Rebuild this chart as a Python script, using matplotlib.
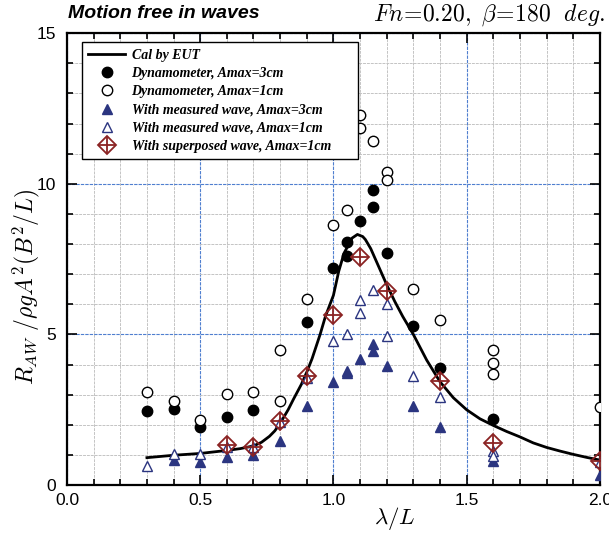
import matplotlib
matplotlib.use("Agg")
import matplotlib.pyplot as plt
from matplotlib.lines import Line2D
from matplotlib.legend_handler import HandlerTuple
from matplotlib.ticker import MultipleLocator

plt.rcParams["mathtext.fontset"] = "cm"
plt.rcParams["font.family"] = ["Liberation Sans", "DejaVu Sans"]

# Calculation (EUT)
cal_x = [0.30, 0.40, 0.50, 0.60, 0.65, 0.70, 0.73, 0.76, 0.78, 0.80, 0.83, 0.85, 0.88,
         0.90, 0.92, 0.95, 0.97, 1.00, 1.02, 1.04, 1.07, 1.09, 1.11, 1.12, 1.14,
         1.16, 1.18, 1.20, 1.23, 1.26, 1.30, 1.35, 1.40, 1.45, 1.50, 1.55, 1.60,
         1.65, 1.70, 1.75, 1.80, 1.85, 1.90, 1.95, 2.00]
cal_y = [0.91, 0.99, 1.05, 1.15, 1.21, 1.30, 1.42, 1.62, 1.80, 2.05, 2.50, 2.85, 3.35,
         3.75, 4.20, 5.00, 5.60, 6.30, 7.10, 7.70, 8.20, 8.32, 8.25, 8.15, 7.85,
         7.45, 7.05, 6.65, 6.10, 5.60, 5.00, 4.15, 3.43, 2.90, 2.50, 2.20, 1.98,
         1.78, 1.60, 1.40, 1.25, 1.13, 1.02, 0.92, 0.83]

# Dynamometer, Amax=3cm
dyn3_x = [0.3, 0.4, 0.5, 0.6, 0.7, 0.9, 1.0, 1.05, 1.05, 1.1, 1.15, 1.15, 1.2, 1.3, 1.4, 1.6]
dyn3_y = [2.47, 2.51, 1.94, 2.25, 2.48, 5.40, 7.20, 8.07, 7.60, 8.78, 9.78, 9.22, 7.70, 5.28, 3.90, 2.18]

# Dynamometer, Amax=1cm
dyn1_x = [0.3, 0.4, 0.5, 0.6, 0.7, 0.8, 0.8, 0.9, 1.0, 1.05, 1.1, 1.1, 1.15, 1.2, 1.2,
          1.3, 1.4, 1.6, 1.6, 1.6, 2.0]
dyn1_y = [3.10, 2.79, 2.16, 3.01, 3.08, 2.80, 4.48, 6.17, 8.62, 9.13, 12.27, 11.85, 11.42,
          10.39, 10.13, 6.50, 5.48, 4.48, 4.04, 3.68, 2.58]

# With measured wave, Amax=3cm
mw3_x = [0.4, 0.5, 0.6, 0.7, 0.8, 0.9, 1.0, 1.05, 1.05, 1.1, 1.15, 1.15, 1.2, 1.3, 1.4, 1.6, 2.0]
mw3_y = [0.82, 0.77, 0.94, 1.00, 1.46, 2.63, 3.41, 3.80, 3.71, 4.17, 4.68, 4.46, 3.95, 2.62,
         1.92, 0.80, 0.33]

# With measured wave, Amax=1cm
mw1_x = [0.3, 0.4, 0.5, 0.6, 0.7, 0.8, 0.9, 1.0, 1.05, 1.1, 1.1, 1.15, 1.2, 1.2, 1.3, 1.4,
         1.6, 1.6, 2.0]
mw1_y = [0.63, 1.02, 1.02, 1.25, 1.27, 2.10, 3.54, 4.79, 5.01, 6.14, 5.72, 6.47, 6.02, 4.95,
         3.62, 2.93, 1.12, 0.98, 0.78]

# With superposed wave, Amax=1cm
sw1_x = [0.6, 0.7, 0.8, 0.9, 1.0, 1.1, 1.2, 1.4, 1.6, 2.0]
sw1_y = [1.33, 1.25, 2.14, 3.63, 5.65, 7.56, 6.45, 3.46, 1.41, 0.80]

x_ticks = [0.0, 0.5, 1.0, 1.5, 2.0]
x_ticklabels = ["0.0", "0.5", "1.0", "1.5", "2.0"]
y_ticks = [0, 5, 10, 15]
y_ticklabels = ["0", "5", "10", "15"]

navy = "#2b3580"
darkred = "#8b2323"

fig = plt.figure(figsize=(6.09, 5.36), dpi=100)
ax = fig.add_axes([0.110, 0.095, 0.875, 0.843])

ax.set_xlim(0, 2.0)
ax.set_ylim(0, 15)
ax.set_xticks(x_ticks)
ax.set_xticklabels(x_ticklabels)
ax.set_yticks(y_ticks)
ax.set_yticklabels(y_ticklabels)
ax.xaxis.set_minor_locator(MultipleLocator(0.1))
ax.yaxis.set_minor_locator(MultipleLocator(1))

ax.grid(which="minor", color="#c4c4c4", linestyle=(0, (3, 1)), linewidth=0.7, zorder=0)
ax.grid(which="major", color="#4f7fcf", linestyle=(0, (3, 1)), linewidth=0.8, zorder=0)
ax.set_axisbelow(True)

ax.tick_params(which="both", direction="in", top=True, right=True, labelsize=12.5,
               width=1.2, color="black")
ax.tick_params(which="major", length=7)
ax.tick_params(which="minor", length=4)
ax.tick_params(axis="x", which="major", pad=6)
ax.tick_params(axis="y", which="major", pad=8)
for sp in ax.spines.values():
    sp.set_linewidth(1.6)

ms = 7.5
ax.plot(cal_x, cal_y, color="black", linewidth=2.0, zorder=3)
ax.plot(dyn3_x, dyn3_y, linestyle="none", marker="o", markersize=ms,
        markerfacecolor="black", markeredgecolor="black", zorder=4)
ax.plot(dyn1_x, dyn1_y, linestyle="none", marker="o", markersize=ms,
        markerfacecolor="white", markeredgecolor="black", markeredgewidth=1.0, zorder=4)
ax.plot(mw3_x, mw3_y, linestyle="none", marker="^", markersize=ms,
        markerfacecolor=navy, markeredgecolor=navy, zorder=4)
ax.plot(mw1_x, mw1_y, linestyle="none", marker="^", markersize=ms,
        markerfacecolor="white", markeredgecolor=navy, markeredgewidth=1.0, zorder=5)
ax.plot(sw1_x, sw1_y, linestyle="none", marker="D", markersize=9,
        markerfacecolor="none", markeredgecolor=darkred, markeredgewidth=1.3, zorder=6)
ax.plot(sw1_x, sw1_y, linestyle="none", marker="+", markersize=12,
        markeredgecolor=darkred, markeredgewidth=1.3, zorder=6)

ax.set_xlabel(r"$\lambda/L$", fontsize=16.5)
ax.xaxis.set_label_coords(0.615, -0.045)
ax.xaxis.label.set_verticalalignment("top")
ax.set_ylabel(r"$R_{AW}\ /\rho g A^2(B^2/L)$", fontsize=17)
ax.yaxis.set_label_coords(-0.046, 0.44)

fig.text(0.112, 0.975, "Motion free in waves", fontsize=14, fontweight="bold",
         fontstyle="italic", ha="left", va="center")
fig.text(0.993, 0.972, r"$Fn\!=\!0.20,\ \beta\!=\!180\ \ deg.$", fontsize=17,
         ha="right", va="center")

h_cal = Line2D([], [], color="black", linewidth=2.0)
h_d3 = Line2D([], [], linestyle="none", marker="o", markersize=ms,
              markerfacecolor="black", markeredgecolor="black")
h_d1 = Line2D([], [], linestyle="none", marker="o", markersize=ms,
              markerfacecolor="white", markeredgecolor="black")
h_m3 = Line2D([], [], linestyle="none", marker="^", markersize=ms,
              markerfacecolor=navy, markeredgecolor=navy)
h_m1 = Line2D([], [], linestyle="none", marker="^", markersize=ms,
              markerfacecolor="white", markeredgecolor=navy)
h_s1a = Line2D([], [], linestyle="none", marker="D", markersize=9,
               markerfacecolor="none", markeredgecolor=darkred, markeredgewidth=1.3)
h_s1b = Line2D([], [], linestyle="none", marker="+", markersize=12,
               markeredgecolor=darkred, markeredgewidth=1.3)

labels = ["Cal by EUT", "Dynamometer, Amax=3cm", "Dynamometer, Amax=1cm",
          "With measured wave, Amax=3cm", "With measured wave, Amax=1cm",
          "With superposed wave, Amax=1cm"]
leg = ax.legend([h_cal, h_d3, h_d1, h_m3, h_m1, (h_s1a, h_s1b)], labels,
                handler_map={tuple: HandlerTuple(ndivide=1)},
                loc="upper left", bbox_to_anchor=(0.135, 0.721, 0.453, 0.2),
                bbox_transform=fig.transFigure, mode="expand",
                prop={"family": "Liberation Serif", "weight": "bold", "style": "italic",
                      "size": 10},
                frameon=True, fancybox=False, framealpha=1, edgecolor="black",
                handlelength=2.6, labelspacing=0.38, borderpad=0.45, handletextpad=0.5,
                borderaxespad=0)
leg.get_frame().set_linewidth(1.0)

fig.savefig("out.png", dpi=100)
